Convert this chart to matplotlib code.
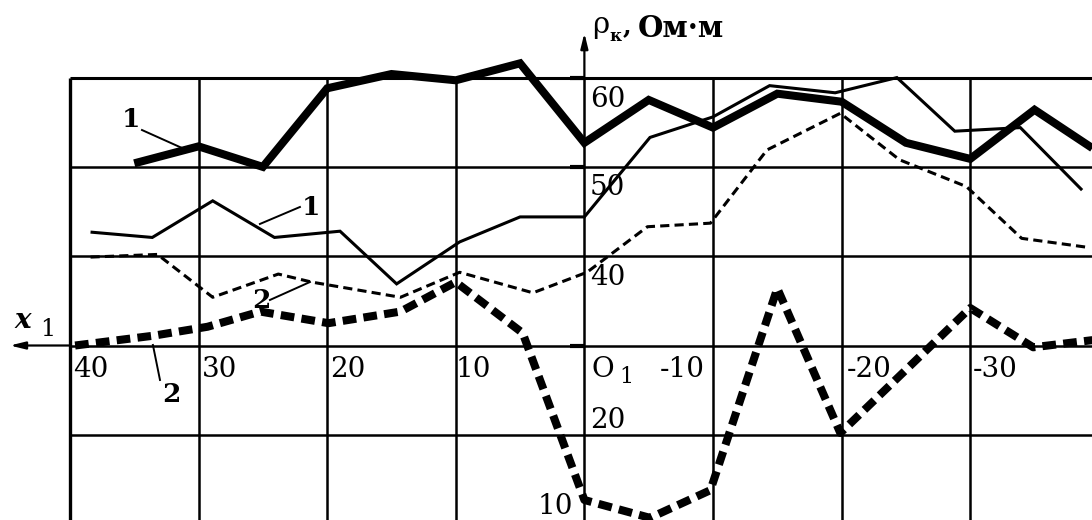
import matplotlib
matplotlib.use("Agg")
import matplotlib.pyplot as plt

# Apparent resistivity profiles, rho_k (Ohm*m) along the x1 profile line
x_heavy_1 = [35, 30, 25, 20, 15, 10, 5, 0, -5, -10, -15, -20, -25, -30, -35, -39.5]
rho_heavy_1 = [50.4, 52.3, 50.0, 58.8, 60.4, 59.7, 61.6, 52.7, 57.5, 54.4,
               58.2, 57.3, 52.7, 50.9, 56.4, 52.1]

x_thin_1 = [38.4, 33.6, 28.9, 24.1, 19.0, 14.6, 9.7, 5.0, 0, -5.1, -10.0,
            -14.4, -19.5, -24.3, -28.8, -33.9, -38.7]
rho_thin_1 = [42.7, 42.1, 46.2, 42.1, 42.8, 36.9, 41.6, 44.4, 44.4, 53.3, 55.6,
              59.1, 58.3, 60.0, 54.0, 54.4, 47.4]

x_thin_2 = [38.4, 33.2, 28.9, 23.8, 21.2, 14.3, 9.7, 4.0, -0.2, -4.9, -9.8,
            -14.2, -19.9, -24.5, -29.7, -34.0, -39.1]
rho_thin_2 = [39.9, 40.2, 35.4, 38.0, 37.1, 35.4, 38.2, 35.9, 38.2, 43.3, 43.7,
              51.9, 56.0, 50.8, 47.8, 42.0, 41.0]

x_heavy_2 = [39.6, 33.5, 29.3, 25.2, 19.9, 14.3, 10, 4.8, 0, -5.1, -9.8,
             -15, -19.9, -30, -34.9, -39.5]
rho_heavy_2 = [30.0, 31.1, 32.1, 33.8, 32.5, 33.8, 37.1, 31.4, 12.7, 10.7, 13.8,
               36.4, 20.2, 34.2, 29.8, 30.6]

x_grid = [40, 30, 20, 10, 0, -10, -20, -30]
rho_grid = [60, 50, 40, 30, 20]
x_tick_labels = ["40", "30", "20", "10", "", "-10", "-20", "-30"]
rho_tick_labels = ["60", "50", "40", "20", "10"]

SERIF = ["DejaVu Serif"]

fig = plt.figure(figsize=(10.92, 5.2), dpi=100)
ax = fig.add_axes([0, 0, 1, 1])
ax.set_xlim(45.44, -39.47)
ax.set_ylim(10.46, 68.69)
ax.axis("off")

X_RIGHT = -39.47
Y_BOTTOM = 10.46

# grid
for xv in x_grid:
    lw = 2.4 if xv == 40 else 1.8
    ax.plot([xv, xv], [Y_BOTTOM, 60], color="black", lw=lw, solid_capstyle="butt", zorder=1)
for yv in rho_grid:
    lw = 2.2 if yv == 60 else 1.8
    ax.plot([40, X_RIGHT], [yv, yv], color="black", lw=lw, solid_capstyle="butt", zorder=1)

# axes with arrows
ax.annotate("", xy=(44.67, 30), xytext=(40, 30),
            arrowprops=dict(arrowstyle="-|>,head_length=0.9,head_width=0.22",
                            color="black", lw=1.6, shrinkA=0, shrinkB=0))
ax.annotate("", xy=(0, 64.99), xytext=(0, 60),
            arrowprops=dict(arrowstyle="-|>,head_length=0.9,head_width=0.22",
                            color="black", lw=1.6, shrinkA=0, shrinkB=0))
for yv in (60, 50, 30):
    ax.plot([1.1, 0], [yv, yv], color="black", lw=3.0, solid_capstyle="butt", zorder=2)

# profiles
ax.plot(x_heavy_1, rho_heavy_1, color="black", lw=5.8, solid_joinstyle="miter",
        solid_capstyle="butt", zorder=4)
ax.plot(x_thin_1, rho_thin_1, color="black", lw=2.2, solid_joinstyle="miter",
        solid_capstyle="butt", zorder=3)
ax.plot(x_thin_2, rho_thin_2, color="black", lw=2.2, linestyle=(0, (3.0, 1.7)),
        dash_capstyle="butt", zorder=3)
ax.plot(x_heavy_2, rho_heavy_2, color="black", lw=5.8, linestyle=(0, (1.7, 0.9)),
        dash_capstyle="butt", zorder=4)

# tick labels
x_label_pos = [39.77, 29.74, 19.78, 9.98, None, -5.88, -20.42, -30.22]
for pos, lab in zip(x_label_pos, x_tick_labels):
    if lab:
        ax.text(pos, 26.47, lab, ha="left", va="baseline", fontsize=20, family=SERIF)
ax.text(-0.59, 26.47, "O", ha="left", va="baseline", fontsize=20, family=SERIF)
ax.text(-2.75, 25.8, "1", ha="left", va="baseline", fontsize=16, family=SERIF)

rho_label_y = [56.70, 46.85, 36.78, 20.76, 11.15]
for yb, lab in zip(rho_label_y, rho_tick_labels):
    if lab == "10":
        ax.text(0.89, yb, lab, ha="right", va="baseline", fontsize=20, family=SERIF)
    else:
        ax.text(-0.43, yb, lab, ha="left", va="baseline", fontsize=20, family=SERIF)

# axis titles
ax.text(-0.59, 64.99, "ρ", ha="left", va="baseline", fontsize=21, family=SERIF)
ax.text(-1.95, 64.1, "к", ha="left", va="baseline", fontsize=12, fontweight="bold", family=SERIF)
ax.text(-2.95, 64.99, ",", ha="left", va="baseline", fontsize=18, fontweight="bold", family=SERIF)
ax.text(-4.17, 64.54, "Ом·м", ha="left", va="baseline", fontsize=21, fontweight="bold", family=SERIF)

ax.text(44.28, 31.96, "x", ha="left", va="baseline", fontsize=20, fontweight="bold",
        fontstyle="italic", family=SERIF)
ax.text(42.33, 31.06, "1", ha="left", va="baseline", fontsize=17, family=SERIF)

# curve labels with leaders
curve_labels = [
    ("1", 35.96, 54.47, (34.40, 54.13), (31.29, 52.12)),
    ("1", 21.96, 44.61, (22.12, 45.51), (25.23, 43.61)),
    ("2", 25.85, 34.20, (24.45, 35.10), (21.34, 37.11)),
    ("2", 32.85, 23.67, (33.00, 26.14), (33.55, 30.06)),
]
for lab, tx, ty, p0, p1 in curve_labels:
    ax.text(tx, ty, lab, ha="left", va="baseline", fontsize=19, fontweight="bold", family=SERIF)
    ax.plot([p0[0], p1[0]], [p0[1], p1[1]], color="black", lw=1.4, zorder=3)

fig.savefig("out.png", dpi=100)
